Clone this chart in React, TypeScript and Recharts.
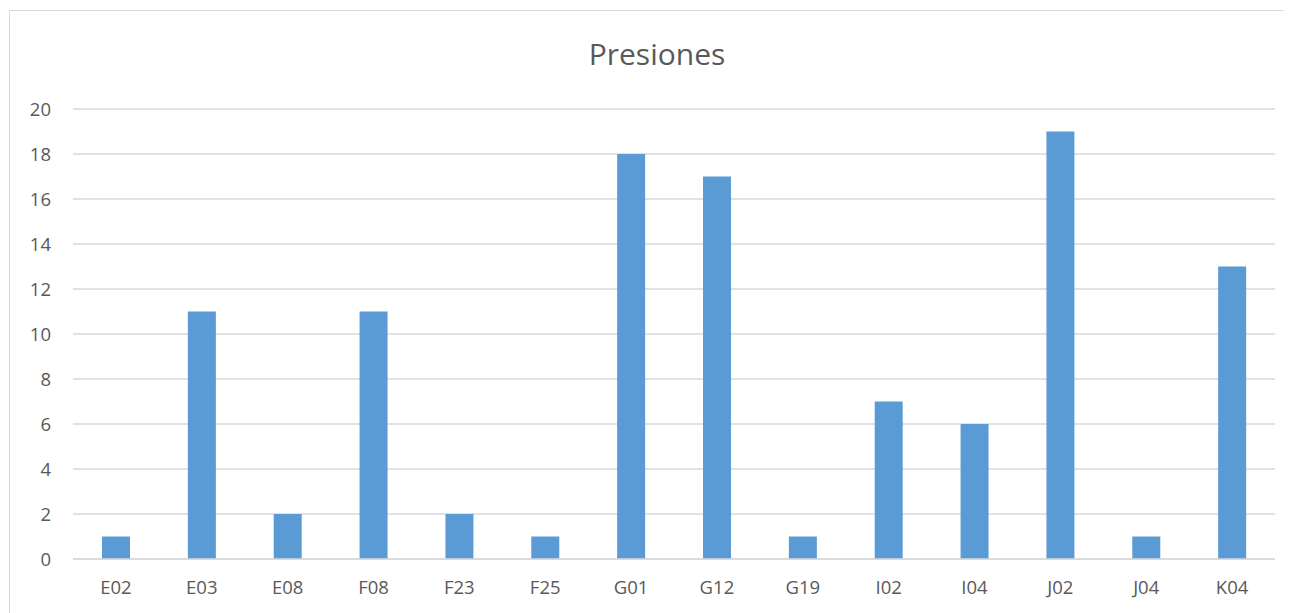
import { BarChart, Bar, XAxis, YAxis, CartesianGrid } from 'recharts'

const categories = ['E02', 'E03', 'E08', 'F08', 'F23', 'F25', 'G01', 'G12', 'G19', 'I02', 'I04', 'J02', 'J04', 'K04']
const presiones = [1, 11, 2, 11, 2, 1, 18, 17, 1, 7, 6, 19, 1, 13]
const yTicks = [0, 2, 4, 6, 8, 10, 12, 14, 16, 18, 20]

const data = categories.map((c, i) => ({ name: c, value: presiones[i] }))

const font = "'Open Sans', 'Noto Sans', sans-serif"
const textColor = '#595959'

export default function App() {
  return (
    <div style={{ position: 'relative', width: 1284, height: 605, fontFamily: font }}>
      {/* frame: only top and left edges show in the crop */}
      <div
        style={{
          position: 'absolute',
          left: 1,
          top: 2,
          width: 1283,
          height: 603,
          borderLeft: '1.5px solid #d9d9d9',
          borderTop: '1.5px solid #d9d9d9',
          boxSizing: 'border-box',
        }}
      />
      <div
        style={{
          position: 'absolute',
          left: 0,
          top: 25,
          width: 1298,
          textAlign: 'center',
          fontSize: 30,
          color: textColor,
        }}
      >
        Presiones
      </div>
      <div style={{ position: 'absolute', left: 0, top: 0 }}>
        <BarChart
          width={1284}
          height={605}
          data={data}
          margin={{ top: 101, right: 17, bottom: 24, left: 5 }}
          barSize={28}
        >
          <CartesianGrid vertical={false} stroke="#d9d9d9" strokeWidth={1.5} />
          <XAxis
            dataKey="name"
            axisLine={{ stroke: '#d9d9d9', strokeWidth: 1.5 }}
            tickLine={false}
            tickSize={0}
            tickMargin={22}
            height={30}
            tick={{ fill: textColor, fontSize: 18.5, fontFamily: font }}
          />
          <YAxis
            domain={[0, 20]}
            ticks={yTicks}
            axisLine={false}
            tickLine={false}
            tickSize={0}
            tickMargin={22}
            width={60}
            tick={{ fill: textColor, fontSize: 18.5, fontFamily: font }}
          />
          <Bar dataKey="value" fill="#5b9bd5" isAnimationActive={false} />
        </BarChart>
      </div>
    </div>
  )
}
